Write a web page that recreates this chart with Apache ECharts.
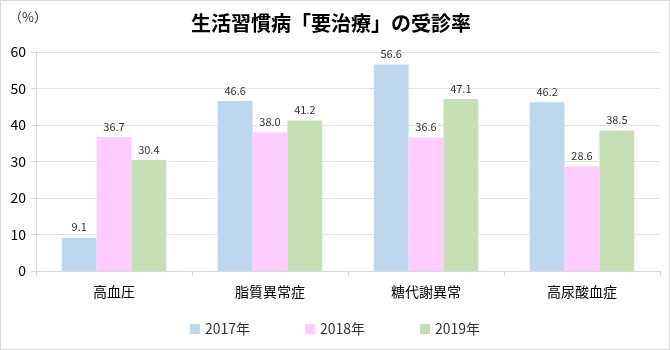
<!DOCTYPE html>
<html><head><meta charset="utf-8">
<script src="https://cdn.jsdelivr.net/npm/echarts@6/dist/echarts.min.js"></script>
<style>
html,body{margin:0;padding:0;background:#fff;}
#c{width:668px;height:348px;border:1px solid #d9d9d9;}
</style></head>
<body><div id="c"></div>
<script>
const categories = ['高血圧','脂質異常症','糖代謝異常','高尿酸血症'];
const seriesNames = ['2017年','2018年','2019年'];
const v2017 = [9.1, 46.6, 56.6, 46.2];
const v2018 = [36.7, 38.0, 36.6, 28.6];
const v2019 = [30.4, 41.2, 47.1, 38.5];
const colors = ['#BDD7EE','#FFCCFF','#C5E0B4'];
const font = '"Noto Sans CJK JP", "Noto Sans", sans-serif';
const chart = echarts.init(document.getElementById('c'));
const mk = (name, data, i) => ({
  name, type:'bar', data, barGap:'0%', barCategoryGap:'33%',
  itemStyle:{color:colors[i]},
  label:{show:true, position:'top', color:'#333', fontSize:11, fontFamily:font, distance:5,
    formatter:p=>p.value.toFixed(1)}
});
chart.setOption({
  animation:false,
  textStyle:{fontFamily:font},
  title:{text:'生活習慣病「要治療」の受診率', left:325, top:7, textAlign:'center',
    textStyle:{fontSize:20, fontWeight:'bold', color:'#000', fontFamily:font}},
  graphic:[{type:'text', left:8, top:10, style:{text:'（%）', fontSize:13, fill:'#333', fontFamily:font}}],
  legend:{data:seriesNames, bottom:8, left:'center', itemWidth:10, itemHeight:10, itemGap:55, icon:'rect',
    textStyle:{fontSize:14, color:'#333', fontFamily:font}},
  grid:{left:35, right:9, top:51, bottom:78},
  xAxis:{type:'category', data:categories,
    axisLine:{lineStyle:{color:'#d9d9d9'}},
    axisTick:{show:true, length:5, lineStyle:{color:'#d9d9d9'}},
    axisLabel:{fontSize:14, color:'#000', margin:14, fontFamily:font}},
  yAxis:{type:'value', min:0, max:60, interval:10,
    axisLine:{show:true, lineStyle:{color:'#d9d9d9'}},
    axisTick:{show:true, length:5, lineStyle:{color:'#d9d9d9'}},
    splitLine:{lineStyle:{color:'#e3e3e3'}},
    axisLabel:{fontSize:14, color:'#000', margin:10, fontFamily:font}},
  series:[mk(seriesNames[0], v2017, 0), mk(seriesNames[1], v2018, 1), mk(seriesNames[2], v2019, 2)]
});
</script></body></html>
